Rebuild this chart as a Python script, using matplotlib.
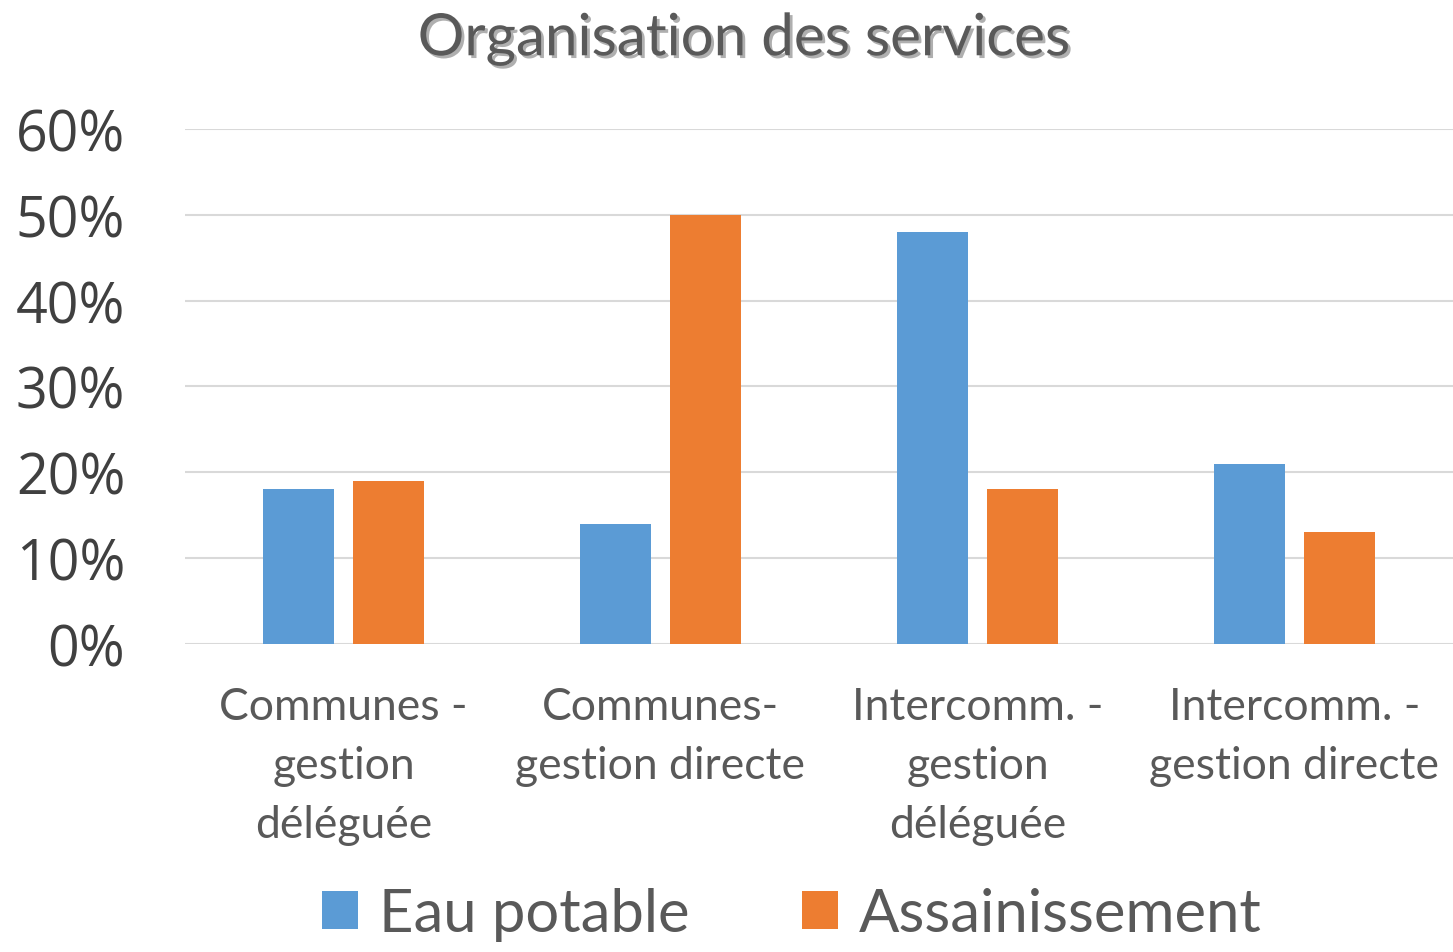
import matplotlib
matplotlib.use('Agg')
import matplotlib.pyplot as plt
import matplotlib.patheffects as pe
import numpy as np

# Données
categories = ['Communes -\ngestion\ndéléguée', 'Communes-\ngestion directe',
              'Intercomm. -\ngestion\ndéléguée', 'Intercomm. -\ngestion directe']
eau_potable = [0.18, 0.14, 0.48, 0.21]
assainissement = [0.19, 0.50, 0.18, 0.13]
yticks = [0, 0.1, 0.2, 0.3, 0.4, 0.5, 0.6]

fig = plt.figure(figsize=(14.53, 9.53), dpi=100)
ax = fig.add_axes([0.1273, 0.3232, 0.8727, 0.5404])

x = np.arange(len(categories))
w = 0.224
b1 = ax.bar(x - 0.142, eau_potable, w, color='#5B9BD5', label='Eau potable', zorder=3)
b2 = ax.bar(x + 0.142, assainissement, w, color='#ED7D31', label='Assainissement', zorder=3)

ax.set_xlim(-0.5, len(categories) - 0.5)
ax.set_ylim(0, 0.6)
ax.set_yticks(yticks)
ax.set_yticklabels([f'{int(round(v * 100))}%' for v in yticks],
                   fontfamily='Open Sans', fontsize=40, color='#404040')
ax.set_xticks(x)
ax.set_xticklabels(categories, fontfamily='Lato', fontsize=32, color='#595959',
                   linespacing=1.55)
ax.tick_params(axis='both', length=0)
ax.tick_params(axis='x', pad=30)
ax.tick_params(axis='y', pad=43)
ax.grid(axis='y', color='#D9D9D9', linewidth=1.5, zorder=0)
for s in ax.spines.values():
    s.set_visible(False)

fig.text(0.512, 0.958, 'Organisation des services', ha='center', va='center',
         fontfamily='Lato', fontsize=42, color='#595959',
         path_effects=[pe.SimplePatchShadow(offset=(2, -2), alpha=0.35), pe.Normal()])

leg = fig.legend(handles=[b1, b2], loc='lower center', bbox_to_anchor=(0.545, -0.045),
                 ncol=2, frameon=False, handlelength=0.6, handleheight=0.6,
                 handletextpad=0.35, columnspacing=1.9,
                 prop={'family': 'Lato', 'size': 43})
for t in leg.get_texts():
    t.set_color('#595959')

plt.savefig('out.png', dpi=100)
